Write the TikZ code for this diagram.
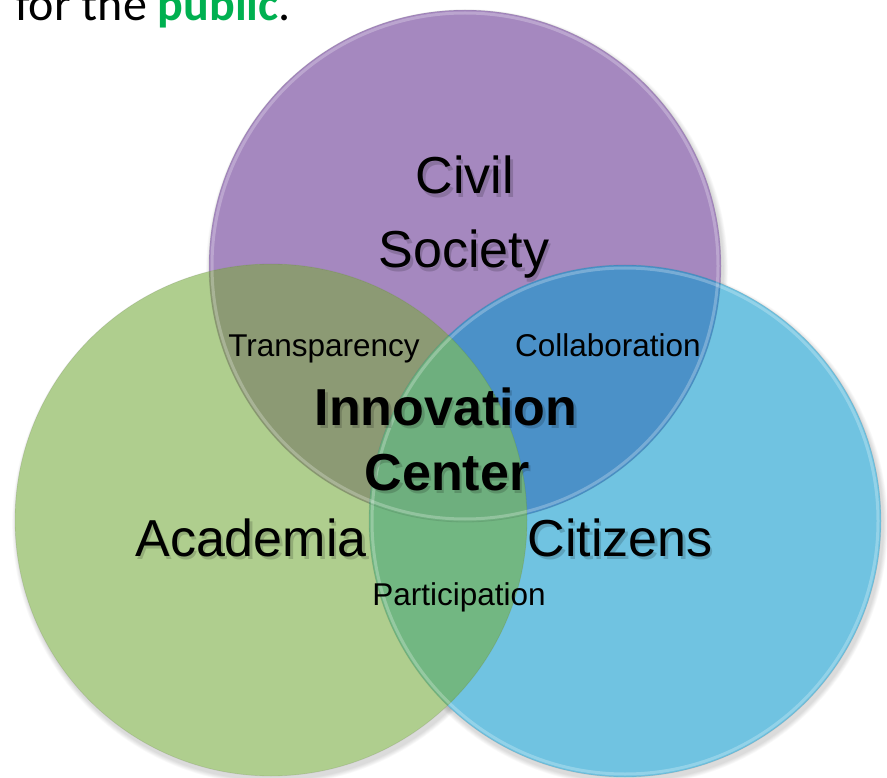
\documentclass[tikz,border=0pt]{standalone}
\usepackage{fontspec}
\setmainfont{Liberation Sans}
\newfontfamily\calib{Carlito}
\definecolor{pcol}{HTML}{A588BF}
\definecolor{gcol}{HTML}{AFCE8E}
\definecolor{bcol}{HTML}{70C3E1}
\definecolor{pgcol}{HTML}{8C9A74}
\definecolor{pbcol}{HTML}{4B91C8}
\definecolor{gbcol}{HTML}{72B782}
\definecolor{pgbcol}{HTML}{6EAF7E}
\definecolor{pubgreen}{HTML}{00B050}
\tikzset{
  big/.style={font=\fontsize{52}{60}\selectfont, inner sep=0pt, anchor=base},
  bigb/.style={font=\fontsize{52}{60}\selectfont\bfseries, inner sep=0pt, anchor=base},
  small/.style={font=\fontsize{31.5}{36}\selectfont, inner sep=0pt, anchor=base},
  shade/.style={text=black, opacity=0.16},
}
\newcommand{\shlabel}[5]{%
  \node[#1, shade] at ([shift={(2.5,3.5)}]#3,#4) {#5};
  \node[#1] (#2) at (#3,#4) {#5};}
\begin{document}
\begin{tikzpicture}[x=1pt,y=-1pt]
\useasboundingbox (0,0) rectangle (887,778);
\fill[white] (0,0) rectangle (887,778);
\def\R{256}
\coordinate (P) at (465,266);
\coordinate (G) at (271,520);
\coordinate (B) at (625,521);
% soft shadows
\foreach \c in {P,G,B}{
  \foreach \i in {1,...,6}{
    \fill[black, opacity=0.025] ([shift={(2,4)}]\c) circle ({\R+\i*0.8});
  }
}
% base circles
\fill[pcol] (P) circle (\R);
\fill[bcol] (B) circle (\R);
\fill[gcol] (G) circle (\R);
% overlaps
\begin{scope}\clip (P) circle (\R); \fill[pgcol] (G) circle (\R); \end{scope}
\begin{scope}\clip (P) circle (\R); \fill[pbcol] (B) circle (\R); \end{scope}
\begin{scope}\clip (G) circle (\R); \fill[gbcol] (B) circle (\R); \end{scope}
\begin{scope}\clip (P) circle (\R); \clip (G) circle (\R); \fill[pgbcol] (B) circle (\R); \end{scope}
% subtle rims
\draw[white, opacity=0.25, line width=3pt] (P) circle (\R-3);
\draw[white, opacity=0.25, line width=3pt] (B) circle (\R-3);
\draw[black, opacity=0.08, line width=0.8pt] (P) circle (\R);
\draw[black, opacity=0.08, line width=0.8pt] (B) circle (\R);
\draw[black, opacity=0.08, line width=0.8pt] (G) circle (\R);
% labels
\shlabel{big}{civil}{465}{194}{Civil}
\shlabel{big}{society}{464}{268}{Society}
\shlabel{big}{academia}{251}{556}{Academia}
\shlabel{big}{citizens}{620}{556}{Citizens}
\shlabel{bigb}{innov}{446}{425}{Innovation}
\shlabel{bigb}{center}{447}{490}{Center}
\node[small] (transp) at (324,356) {Transparency};
\node[small] (collab) at (608,356) {Collaboration};
\node[small] (partic) at (459,605) {Participation};
% top text
\node[font=\calib\fontsize{48}{52}\selectfont, inner sep=0pt, anchor=base west] (top) at (15,21) {for the \textcolor{pubgreen}{\bfseries public}.};
\end{tikzpicture}
\end{document}
